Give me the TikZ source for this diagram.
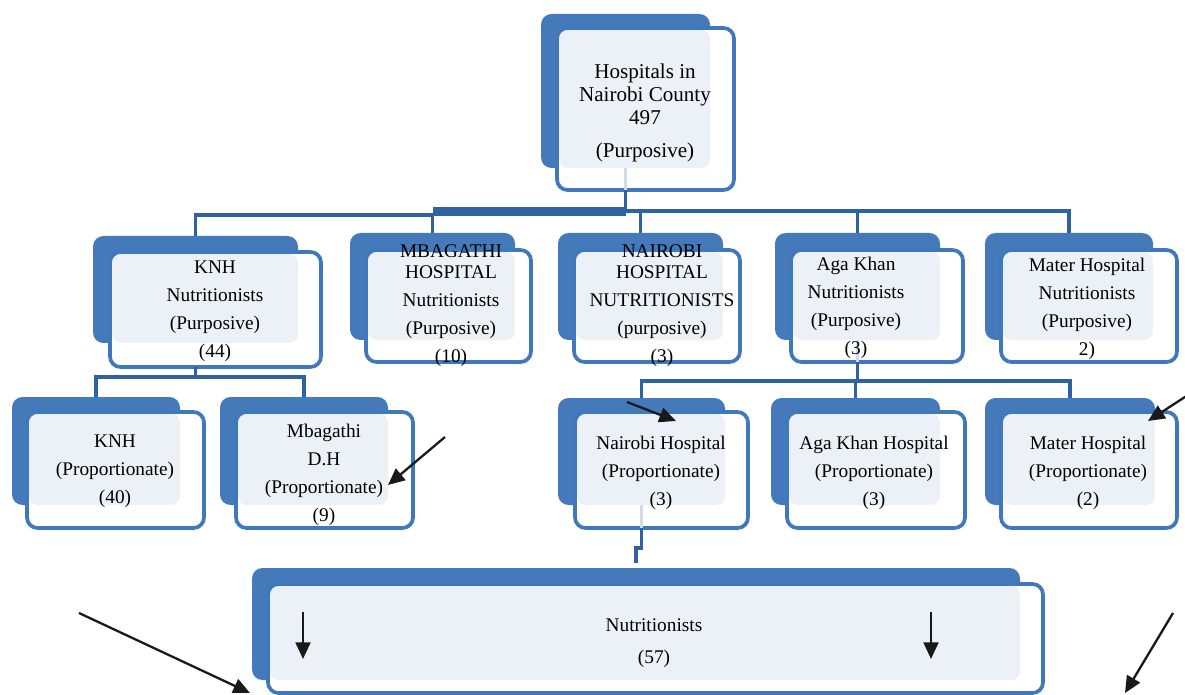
\documentclass[tikz,border=0pt]{standalone}
\usepackage{fontspec}
\setmainfont{Liberation Serif}
\usetikzlibrary{arrows.meta,calc}
\definecolor{backc}{RGB}{68,122,186}
\definecolor{frontc}{RGB}{64,120,188}
\definecolor{lightc}{RGB}{236,241,247}
\definecolor{connc}{RGB}{46,98,160}
\definecolor{faintc}{RGB}{208,220,235}
\newcommand{\orgbox}[9]{%
  \fill[backc, rounded corners=6pt] (#2,#3) rectangle (#4,#5);
  \fill[white, rounded corners=6pt] (#6,#7) rectangle (#8,#9);
  \fill[lightc, rounded corners=5pt] ($(#6,#7)+(2,2)$) rectangle (#4,#5);
  \draw[frontc, line width=2.1pt, rounded corners=6pt] (#6,#7) rectangle (#8,#9);
  \coordinate (#1-in) at ({(#2+#4)/2},#3);
  \coordinate (#1-out) at ({(#2+#4)/2},#9);
  \coordinate (#1-bb) at ({(#2+#4)/2},#5);
}
\tikzset{
  lab/.style={font=\fontsize{11}{15.9}\selectfont, align=center, inner sep=0pt, text=black},
  conn/.style={connc, line width=2pt},
  faint/.style={faintc, line width=2pt},
  arr/.style={black!90, line width=1.3pt, -{Triangle[length=9.5pt,width=8.5pt]}}
}
\begin{document}
\begin{tikzpicture}[x=0.02cm, y=-0.02cm]
\useasboundingbox (0,0) rectangle (1185,695);
% boxes
\orgbox{top}{541}{14}{710}{168}{557}{28}{734}{190}
\orgbox{knh}{93}{236}{298}{343}{110}{252}{321}{367}
\orgbox{mbg}{350}{233}{515}{340}{366}{250}{531}{362}
\orgbox{nrb}{558}{233}{723}{340}{574}{250}{740}{362}
\orgbox{aga}{775}{233}{940}{340}{791}{250}{963}{362}
\orgbox{mat}{985}{233}{1153}{340}{1001}{250}{1177}{362}
\orgbox{knhp}{12}{397}{180}{505}{27}{412}{204}{528}
\orgbox{mbgp}{220}{397}{388}{505}{236}{412}{413}{528}
\orgbox{nrbp}{558}{398}{725}{505}{575}{412}{748}{528}
\orgbox{agap}{771}{398}{940}{505}{787}{412}{965}{528}
\orgbox{matp}{985}{398}{1155}{505}{1001}{412}{1177}{528}
\orgbox{nut}{252}{568}{1020}{680}{268}{584}{1043}{693}
% faint stems seen through the boxes
\draw[faint] (top-bb) -- (top-out);
\draw[faint] (aga-bb) -- (aga-out);
\draw[faint] (nrbp-bb) -- (nrbp-out);
% bus coordinates
\coordinate (busL) at (0,215);
\coordinate (busR) at (0,211);
\coordinate (busT) at (0,207.5);
\coordinate (busB) at (0,216.5);
\coordinate (bus2) at (0,377);
\coordinate (bus3) at (0,381);
\coordinate (jog) at (0,548);
% level 1 -> 2
\draw[conn] (top-out) -- (top-out |- busR);
\fill[connc] (mbg-in |- busT) rectangle (top-out |- busB);
\draw[conn] (knh-in) |- (mbg-in |- busL) -- (mbg-in);
\draw[conn] (top-out |- busR) -| (mat-in);
\draw[conn] (nrb-in) -- (nrb-in |- busR);
\draw[conn] (aga-in) -- (aga-in |- busR);
% level 2 -> 3 (left)
\draw[conn] (knh-out) -- (knh-out |- bus2);
\draw[conn] (knhp-in) |- (mbgp-in |- bus2) -- (mbgp-in);
% level 2 -> 3 (right)
\draw[conn] (aga-out) -- (aga-out |- bus3);
\draw[conn] (nrbp-in) |- (matp-in |- bus3) -- (matp-in);
\draw[conn] (agap-in) -- (agap-in |- bus3);
% level 3 -> bottom
\draw[conn] (nrbp-out) -- (nrbp-out |- jog) -- (nut-in |- jog) -- ($(nut-in)+(0,-5)$);
% texts
\node[lab, font=\fontsize{12}{13.3}\selectfont] (t-top) at (645,113) {Hospitals in\\Nairobi County\\497\\[5.5pt](Purposive)};
\node[lab] (t-knh) at (215,311) {KNH\\Nutritionists\\(Purposive)\\(44)};
\node[lab] (t-mbg) at (451,306) {MBAGATHI\\[-4pt]HOSPITAL\\Nutritionists\\(Purposive)\\(10)};
\node[lab] (t-nrb) at (662,306) {NAIROBI\\[-4pt]HOSPITAL\\NUTRITIONISTS\\(purposive)\\(3)};
\node[lab] (t-aga) at (856,308) {Aga Khan\\Nutritionists\\(Purposive)\\(3)};
\node[lab] (t-mat) at (1087,309) {Mater Hospital\\Nutritionists\\(Purposive)\\2)};
\node[lab] (t-knhp) at (115,471) {KNH\\(Proportionate)\\(40)};
\node[lab] (t-mbgp) at (324,474.5) {Mbagathi\\D.H\\(Proportionate)\\(9)};
\node[lab] (t-nrbp) at (661,473) {Nairobi Hospital\\(Proportionate)\\(3)};
\node[lab] (t-agap) at (874,473) {Aga Khan Hospital\\(Proportionate)\\(3)};
\node[lab] (t-matp) at (1088,473) {Mater Hospital\\(Proportionate)\\(2)};
\node[lab] (t-nut) at (654,643) {Nutritionists\\[2.5pt](57)};
% arrows
\coordinate (a1s) at (445,437); \coordinate (a1e) at (388,485);
\coordinate (a2s) at (627,402); \coordinate (a2e) at (676,421);
\coordinate (a3s) at (1188,395); \coordinate (a3e) at (1148,421);
\coordinate (a4s) at (79,613); \coordinate (a4e) at (250,693);
\coordinate (a5s) at (1173,613); \coordinate (a5e) at (1125,693);
\coordinate (a6s) at (303,612); \coordinate (a6e) at (303,659);
\coordinate (a7s) at (931,612); \coordinate (a7e) at (931,659);
\draw[arr] (a1s) -- (a1e);
\draw[arr] (a2s) -- (a2e);
\draw[arr] (a3s) -- (a3e);
\draw[arr] (a4s) -- (a4e);
\draw[arr] (a5s) -- (a5e);
\draw[arr] (a6s) -- (a6e);
\draw[arr] (a7s) -- (a7e);
\end{tikzpicture}
\end{document}
